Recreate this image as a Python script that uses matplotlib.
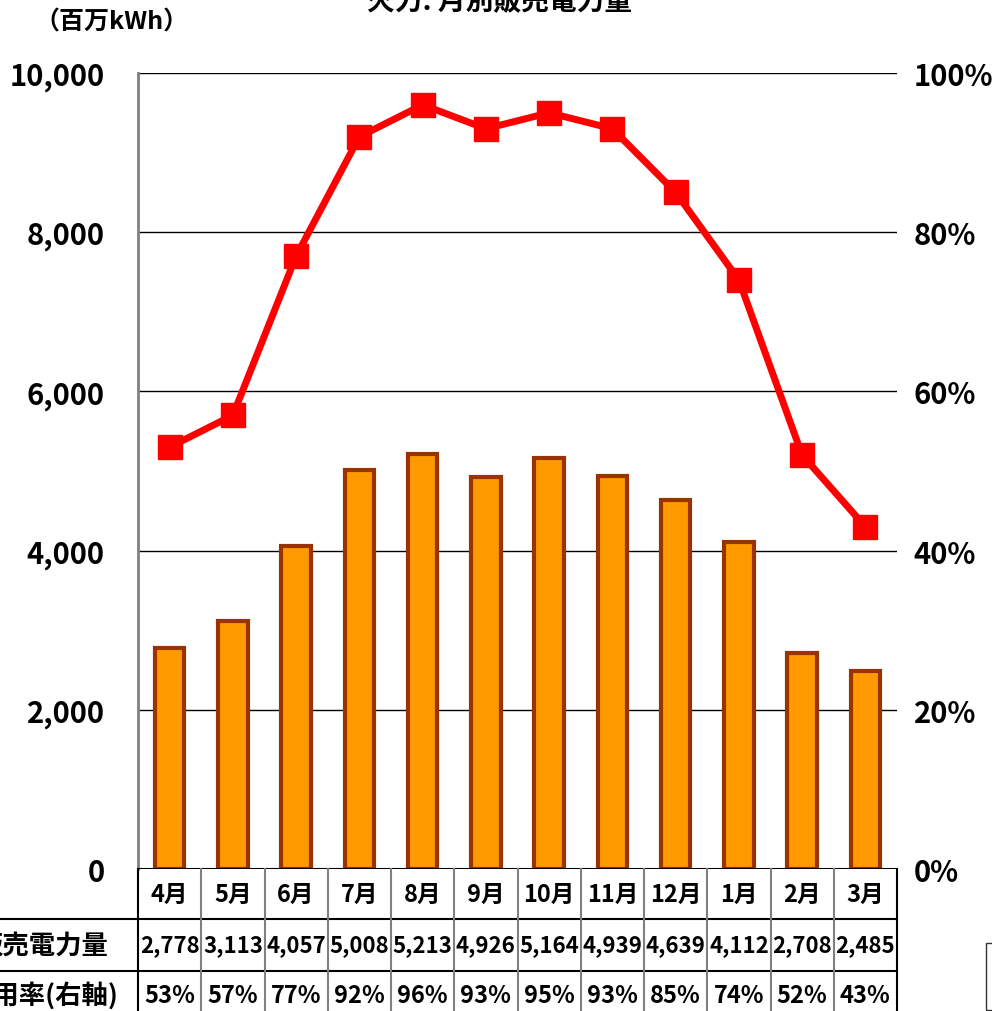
import numpy as np
import matplotlib.pyplot as plt
from matplotlib.transforms import blended_transform_factory
from matplotlib.lines import Line2D
from matplotlib.patches import Patch

plt.rcParams['font.family'] = ['Noto Sans CJK JP', 'DejaVu Sans']

months = ['4月', '5月', '6月', '7月', '8月', '9月', '10月', '11月', '12月', '1月', '2月', '3月']
sales = [2778, 3113, 4057, 5008, 5213, 4926, 5164, 4939, 4639, 4112, 2708, 2485]
usage = [53, 57, 77, 92, 96, 93, 95, 93, 85, 74, 52, 43]
left_ticks = [0, 2000, 4000, 6000, 8000, 10000]
right_ticks = [0, 20, 40, 60, 80, 100]

title = '火力: 月別販売電力量'
unit_label = '（百万kWh）'
row_labels = ['販売電力量', '利用率(右軸)']

W, H = 992, 1012
fig = plt.figure(figsize=(W / 100, H / 100), dpi=100)
x0, x1, y_top, y_bot = 138, 897, 74, 870
ax = fig.add_axes([x0 / W, 1 - y_bot / H, (x1 - x0) / W, (y_bot - y_top) / H])

x = np.arange(len(months))
ax.bar(x, sales, width=0.47, color='#FF9900', edgecolor='#993300', linewidth=3, zorder=3)
ax.set_xlim(-0.5, len(months) - 0.5)
ax.set_ylim(0, 10000)
ax.set_yticks(left_ticks)
ax.set_yticklabels([f'{v:,}' for v in left_ticks], fontsize=21, fontweight='bold')
ax.tick_params(axis='y', length=0, pad=24)
ax.set_xticks([])
for v in left_ticks[1:]:
    ax.axhline(v, color='black', lw=1, zorder=1)
ax.axhline(0, color='black', lw=1.5, zorder=4)
for s in ['top', 'right', 'bottom']:
    ax.spines[s].set_visible(False)
ax.spines['left'].set_color('#808080')
ax.spines['left'].set_linewidth(2)

ax2 = ax.twinx()
ax2.plot(x, usage, color='#FF0000', lw=5, marker='s', markersize=17, zorder=5)
ax2.set_ylim(0, 100)
ax2.set_yticks(right_ticks)
ax2.set_yticklabels([f'{v}%' for v in right_ticks], fontsize=21, fontweight='bold')
ax2.tick_params(axis='y', length=0, pad=12)
for s in ax2.spines.values():
    s.set_visible(False)

# data table under the plot area
tr = blended_transform_factory(ax.transData, ax.transAxes)
px = 1 / (y_bot - y_top)
row_edges = [0, -50 * px, -102 * px, -154 * px]
lkw = dict(transform=tr, clip_on=False, zorder=6)
for i in range(len(months) + 1):
    col = 'black' if i in (0, len(months)) else '#808080'
    ax.add_line(Line2D([i - 0.5, i - 0.5], [row_edges[0], row_edges[-1]], color=col, lw=1.5, **lkw))
fx = blended_transform_factory(fig.transFigure, ax.transAxes)
for yy in row_edges[1:3]:
    ax.add_line(Line2D([0, x1 / W], [yy, yy], color='black', lw=1.5, transform=fx, clip_on=False))

rows = [months, [f'{v:,}' for v in sales], [f'{v}%' for v in usage]]
sizes = [17, 16, 17]
for r, vals in enumerate(rows):
    yc = (row_edges[r] + row_edges[r + 1]) / 2
    if r == 2:
        yc = -126 * px
    for i, t in enumerate(vals):
        ax.text(i, yc, t, transform=tr, ha='center', va='center', fontsize=sizes[r],
                fontweight='bold', clip_on=False)
for r, lab in enumerate(row_labels):
    yc = (row_edges[r + 1] + row_edges[r + 2]) / 2 if r == 0 else -126 * px
    ax.text(42 / W, yc, lab, transform=fx, ha='center', va='center', fontsize=19,
            fontweight='bold')

fig.text(500 / W, 1 - 2 / H, title, ha='center', va='center', fontsize=20, fontweight='bold')
fig.text(112 / W, 1 - 22 / H, unit_label, ha='center', va='center', fontsize=18, fontweight='bold')

handles = [Patch(facecolor='#FF9900', edgecolor='#993300', linewidth=2),
           Line2D([], [], color='#FF0000', lw=4, marker='s', markersize=10)]
fig.legend(handles, row_labels, loc='upper left', bbox_to_anchor=(986 / W, 1 - 944 / H),
           fancybox=False, edgecolor='black', fontsize=14, borderaxespad=0)

fig.savefig('out.png', dpi=100)
